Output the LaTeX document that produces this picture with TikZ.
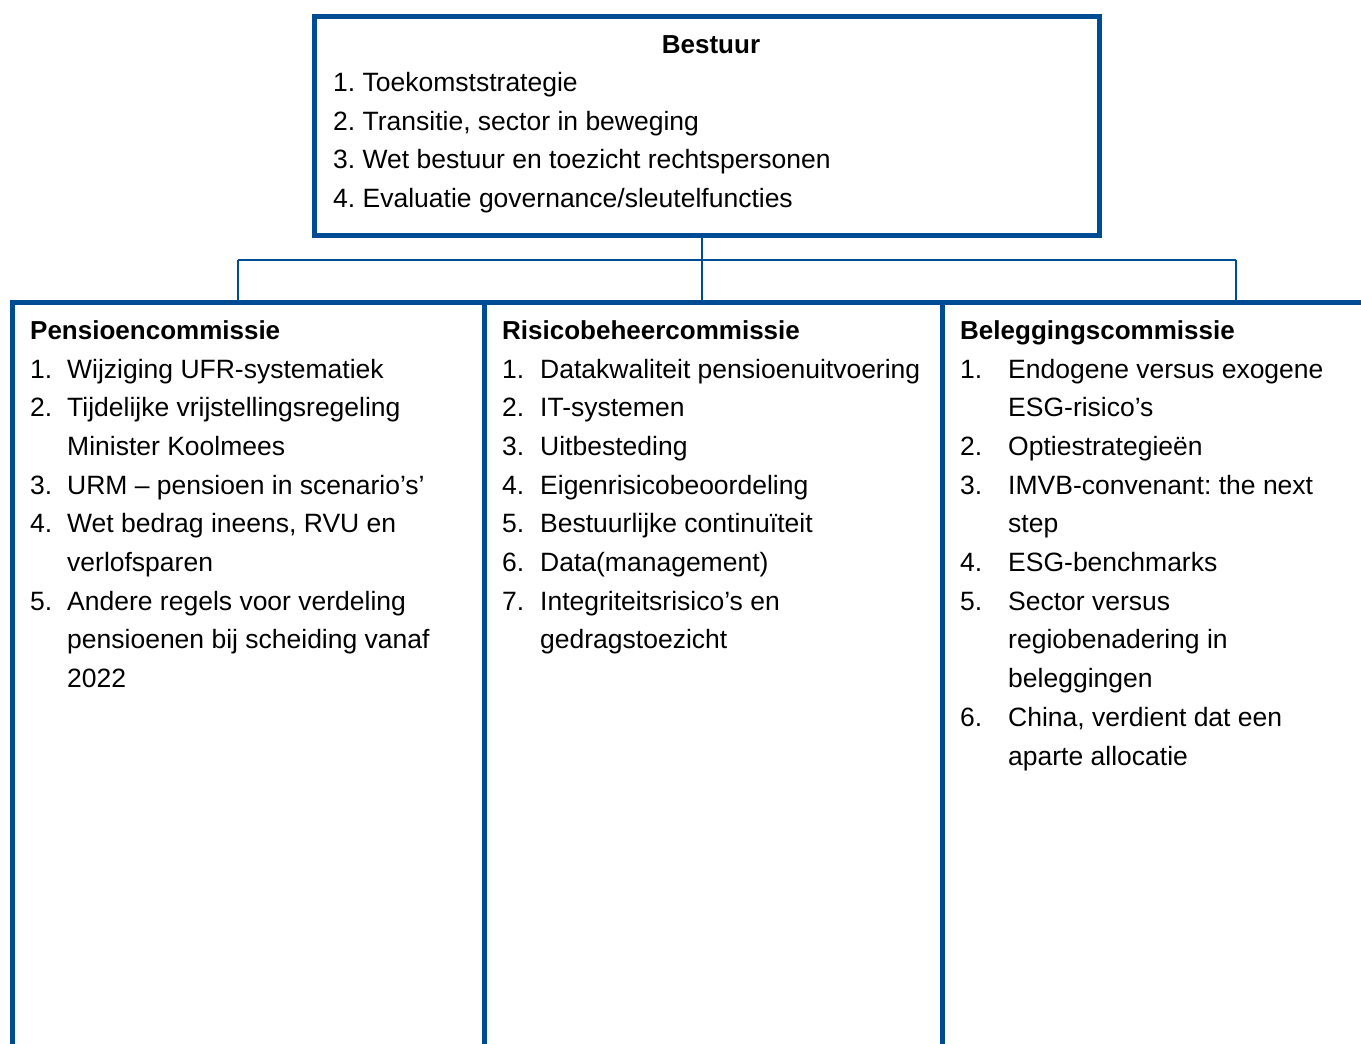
\documentclass[tikz,border=0pt]{standalone}
\usepackage{fontspec}
\setmainfont{Liberation Sans}
\definecolor{frame}{RGB}{0,76,148}
\begin{document}
\frenchspacing
\begin{tikzpicture}[x=1pt,y=-1pt,
  boxed/.style={draw=frame,line width=5pt,rectangle,inner sep=0pt,outer sep=0pt,anchor=north west},
  conn/.style={draw=frame,line width=2pt},
  txt/.style={anchor=base west,inner sep=0pt,font=\fontsize{26.5}{38.7}\selectfont},
  head/.style={txt,font=\fontsize{26}{38.7}\selectfont\bfseries}]
\useasboundingbox (0,0) rectangle (1361,1044);
\clip (0,0) rectangle (1361,1044);
% boxes
\node[boxed,minimum width=785pt,minimum height=219pt] (bestuur) at (314.5,16.5) {};
\node[boxed,minimum width=472.5pt,minimum height=800pt] (pens) at (12,302) {};
\node[boxed,minimum width=457.5pt,minimum height=800pt] (risk) at (484.5,302) {};
\node[boxed,minimum width=440pt,minimum height=800pt] (bel) at (942,302) {};
% connectors
\coordinate (jm) at (702,260);
\coordinate (jl) at (238,260);
\coordinate (jr) at (1235.5,260);
\draw[conn] (bestuur.south -| jm) -- (jm);
\draw[conn] (jl) -- (jr);
\draw[conn] (jl) -- (jl |- pens.north);
\draw[conn] (jm) -- (jm |- risk.north);
\draw[conn] (jr) -- (jr |- bel.north);
% Bestuur
\node[head,anchor=base] (bh) at (711,53) {Bestuur};
\node[txt] (b1) at (333,91.5) {1. Toekomststrategie};
\node[txt] (b2) at (333,130.2) {2. Transitie, sector in beweging};
\node[txt] (b3) at (333,168.9) {3. Wet bestuur en toezicht rechtspersonen};
\node[txt] (b4) at (333,207.6) {4. Evaluatie governance/sleutelfuncties};
% Pensioencommissie
\node[head] (ph) at (30,339) {Pensioencommissie};
\node[txt] (p1n) at (30,378) {1.};
\node[txt] (p1) at (67,378) {Wijziging UFR-systematiek};
\node[txt] (p2n) at (30,416.7) {2.};
\node[txt] (p2) at (67,416.7) {Tijdelijke vrijstellingsregeling};
\node[txt] (p2b) at (67,455.4) {Minister Koolmees};
\node[txt] (p3n) at (30,494.1) {3.};
\node[txt] (p3) at (67,494.1) {URM – pensioen in scenario’s’};
\node[txt] (p4n) at (30,532.8) {4.};
\node[txt] (p4) at (67,532.8) {Wet bedrag ineens, RVU en};
\node[txt] (p4b) at (67,571.5) {verlofsparen};
\node[txt] (p5n) at (30,610.2) {5.};
\node[txt] (p5) at (67,610.2) {Andere regels voor verdeling};
\node[txt] (p5b) at (67,648.9) {pensioenen bij scheiding vanaf};
\node[txt] (p5c) at (67,687.6) {2022};
% Risicobeheercommissie
\node[head] (rh) at (502,339) {Risicobeheercommissie};
\node[txt] (r1n) at (502,378) {1.};
\node[txt] (r1) at (540,378) {Datakwaliteit pensioenuitvoering};
\node[txt] (r2n) at (502,416.7) {2.};
\node[txt] (r2) at (540,416.7) {IT-systemen};
\node[txt] (r3n) at (502,455.4) {3.};
\node[txt] (r3) at (540,455.4) {Uitbesteding};
\node[txt] (r4n) at (502,494.1) {4.};
\node[txt] (r4) at (540,494.1) {Eigenrisicobeoordeling};
\node[txt] (r5n) at (502,532.8) {5.};
\node[txt] (r5) at (540,532.8) {Bestuurlijke continuïteit};
\node[txt] (r6n) at (502,571.5) {6.};
\node[txt] (r6) at (540,571.5) {Data(management)};
\node[txt] (r7n) at (502,610.2) {7.};
\node[txt] (r7) at (540,610.2) {Integriteitsrisico’s en};
\node[txt] (r7b) at (540,648.9) {gedragstoezicht};
% Beleggingscommissie
\node[head] (eh) at (960,339) {Beleggingscommissie};
\node[txt] (e1n) at (960,378) {1.};
\node[txt] (e1) at (1008,378) {Endogene versus exogene};
\node[txt] (e1b) at (1008,416.7) {ESG-risico’s};
\node[txt] (e2n) at (960,455.4) {2.};
\node[txt] (e2) at (1008,455.4) {Optiestrategieën};
\node[txt] (e3n) at (960,494.1) {3.};
\node[txt] (e3) at (1008,494.1) {IMVB-convenant: the next};
\node[txt] (e3b) at (1008,532.8) {step};
\node[txt] (e4n) at (960,571.5) {4.};
\node[txt] (e4) at (1008,571.5) {ESG-benchmarks};
\node[txt] (e5n) at (960,610.2) {5.};
\node[txt] (e5) at (1008,610.2) {Sector versus};
\node[txt] (e5b) at (1008,648.9) {regiobenadering in};
\node[txt] (e5c) at (1008,687.6) {beleggingen};
\node[txt] (e6n) at (960,726.3) {6.};
\node[txt] (e6) at (1008,726.3) {China, verdient dat een};
\node[txt] (e6b) at (1008,765) {aparte allocatie};
\end{tikzpicture}
\end{document}
